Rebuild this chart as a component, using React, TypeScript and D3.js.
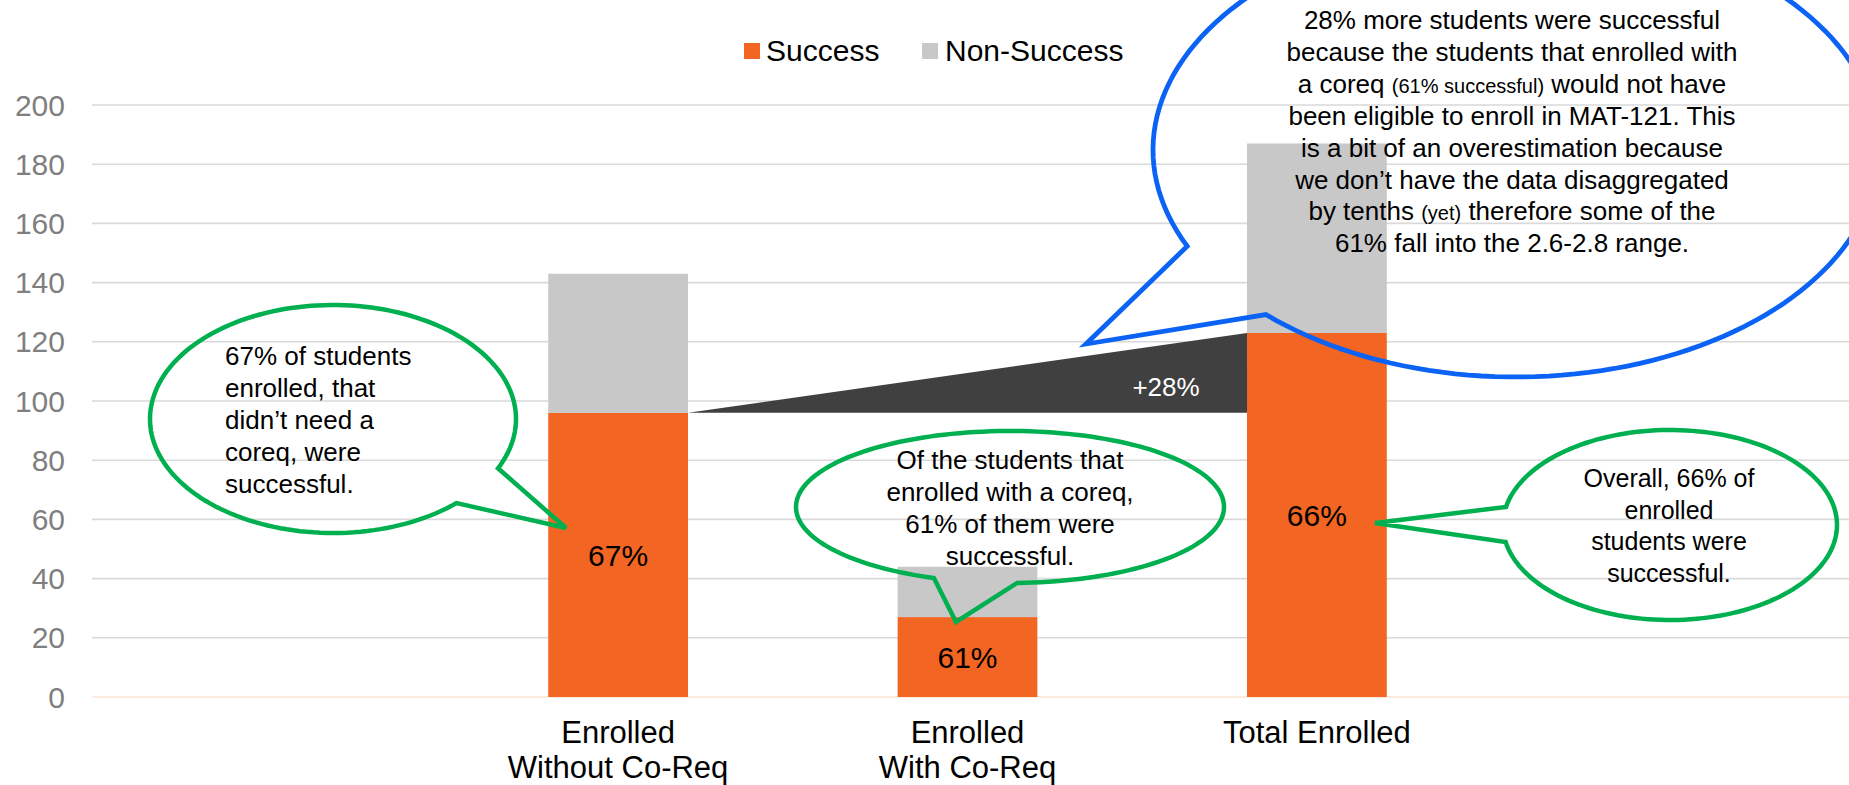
import React from "react";
import * as d3 from "d3";

const categories = ["padLeft", "without", "with", "total", "padRight"];
const categoryLines = [[], ["Enrolled", "Without Co-Req"], ["Enrolled", "With Co-Req"], ["Total Enrolled"], []];
const successValues = [0, 96, 27, 123, 0];
const nonSuccessValues = [0, 47, 17, 64, 0];
const yTicks = [0, 20, 40, 60, 80, 100, 120, 140, 160, 180, 200];
const seriesKeys = ["Success", "Non-Success"];
const seriesColors = ["#F26522", "#C8C8C8"];

const leftNote = ["67% of students", "enrolled, that", "didn\u2019t need a", "coreq, were", "successful."];
const middleNote = ["Of the students that", "enrolled with a coreq,", "61% of them were", "successful."];
const rightNote = ["Overall, 66% of", "enrolled", "students were", "successful."];
// each line: [normal, small, normal]
const blueNote: string[][] = [
  ["28% more students were successful"],
  ["because the students that enrolled with"],
  ["a coreq ", "(61% successful)", " would not have"],
  ["been eligible to enroll in MAT-121. This"],
  ["is a bit of an overestimation because"],
  ["we don\u2019t have the data disaggregated"],
  ["by tenths ", "(yet)", " therefore some of the"],
  ["61% fall into the 2.6-2.8 range."],
];

const W = 1849;
const H = 785;
const FONT = "'Liberation Sans', Arial, sans-serif";

function calloutPath(cx: number, cy: number, rx: number, ry: number, a: number[], b: number[], tip: number[]) {
  const ang = (p: number[]) => Math.atan2((p[1] - cy) / ry, (p[0] - cx) / rx);
  const ta = ang(a);
  const tb = ang(b);
  let d = tb - ta;
  while (d > Math.PI) d -= 2 * Math.PI;
  while (d < -Math.PI) d += 2 * Math.PI;
  const dir = Math.sign(d);
  const span = 2 * Math.PI - Math.abs(d);
  const pts: [number, number][] = [];
  const n = 160;
  for (let i = 0; i <= n; i++) {
    const t = tb + (dir * span * i) / n;
    pts.push([cx + rx * Math.cos(t), cy + ry * Math.sin(t)]);
  }
  pts.push([tip[0], tip[1]]);
  return d3.line()(pts) + "Z";
}

export default function App() {
  const x = d3.scaleBand<string>().domain(categories).range([94, 1841]).paddingInner(0.6).paddingOuter(0.3);
  const y = d3.scaleLinear().domain([0, 200]).range([697, 105]);

  const rows = categories.map((c, i) => ({ cat: c, Success: successValues[i], "Non-Success": nonSuccessValues[i] }));
  const stacked = d3.stack<any>().keys(seriesKeys)(rows);

  const bw = x.bandwidth();
  const i1 = 1;
  const i3 = 3;
  const wedgeX0 = (x(categories[i1]) as number) + bw;
  const wedgeX1 = x(categories[i3]) as number;
  const wedgeY0 = y(successValues[i1]);
  const wedgeY1 = y(successValues[i3]);
  const growth = Math.round((successValues[i3] / successValues[i1] - 1) * 100);

  return (
    <svg width={W} height={H} style={{ position: "fixed", left: 0, top: 0, background: "#fff" }} fontFamily={FONT}>
      <rect width={W} height={H} fill="#fff" />
      {/* gridlines */}
      {yTicks.map((t) => (
        <line key={t} x1={92} x2={W} y1={y(t)} y2={y(t)} stroke={t === 0 ? "#FCE4D6" : "#D9D9D9"} strokeWidth={1.6} />
      ))}
      {yTicks.map((t) => (
        <text key={"l" + t} x={65} y={y(t) + 10.5} textAnchor="end" fontSize={30} fill="#7F7F7F">
          {t}
        </text>
      ))}

      {/* legend */}
      <rect x={744} y={43} width={16} height={16} fill={seriesColors[0]} />
      <text x={766} y={61} fontSize={30} fill="#000">{seriesKeys[0]}</text>
      <rect x={922} y={43} width={16} height={16} fill={seriesColors[1]} />
      <text x={945} y={61} fontSize={30} fill="#000">{seriesKeys[1]}</text>

      {/* bars */}
      {stacked.map((s, si) => (
        <g key={s.key} fill={seriesColors[si]}>
          {s.map((d, di) =>
            d[1] - d[0] > 0 ? (
              <rect key={di} x={x(categories[di])} width={bw} y={y(d[1])} height={y(d[0]) - y(d[1])} />
            ) : null
          )}
        </g>
      ))}

      {/* growth wedge */}
      <path
        d={`M${wedgeX0},${wedgeY0}L${wedgeX1},${wedgeY1}L${wedgeX1},${wedgeY0}Z`}
        fill="#404040"
      />
      <text x={wedgeX1 - 81} y={wedgeY0 - 17} textAnchor="middle" fontSize={26} fill="#fff">
        +{growth}%
      </text>

      {/* percent labels */}
      {categories.map((c, i) =>
        successValues[i] > 0 ? (
          <text
            key={"p" + c}
            x={(x(c) as number) + bw / 2}
            y={y(successValues[i] / 2) + 11}
            textAnchor="middle"
            fontSize={30}
            fill="#000"
          >
            {Math.round((successValues[i] / (successValues[i] + nonSuccessValues[i])) * 100)}%
          </text>
        ) : null
      )}

      {/* category labels */}
      {categories.map((c, i) =>
        categoryLines[i].map((line, li) => (
          <text key={c + li} x={(x(c) as number) + bw / 2} y={743 + li * 35} textAnchor="middle" fontSize={31} fill="#000">
            {line}
          </text>
        ))
      )}

      {/* green callouts */}
      <g fill="none" stroke="#00B050" strokeWidth={4.5} strokeLinejoin="miter">
        <path d={calloutPath(333, 419, 183, 114, [497, 468], [455, 502], [566, 528])} />
        <path d={calloutPath(1010, 507, 214, 76, [935, 577], [1017, 582], [956, 622])} />
        <path d={calloutPath(1670, 525, 167, 95, [1507, 507], [1507, 542], [1375, 523])} />
      </g>
      {leftNote.map((l, i) => (
        <text key={"ln" + i} x={225} y={365 + i * 32} fontSize={26} fill="#000">{l}</text>
      ))}
      {middleNote.map((l, i) => (
        <text key={"mn" + i} x={1010} y={469 + i * 32} textAnchor="middle" fontSize={26} fill="#000">{l}</text>
      ))}
      {rightNote.map((l, i) => (
        <text key={"rn" + i} x={1669} y={487 + i * 31.7} textAnchor="middle" fontSize={25} fill="#000">{l}</text>
      ))}

      {/* blue callout */}
      <path
        d={calloutPath(1516, 150, 363, 227, [1188, 246], [1267, 314], [1086, 344])}
        fill="none"
        stroke="#0B63F6"
        strokeWidth={4.8}
        strokeLinejoin="miter"
      />
      {blueNote.map((parts, i) => (
        <text key={"bn" + i} x={1512} y={29 + i * 31.9} textAnchor="middle" fontSize={26} fill="#000">
          {parts.map((p, pi) => (
            <tspan key={pi} fontSize={pi === 1 ? 20 : 26}>{p}</tspan>
          ))}
        </text>
      ))}
    </svg>
  );
}
